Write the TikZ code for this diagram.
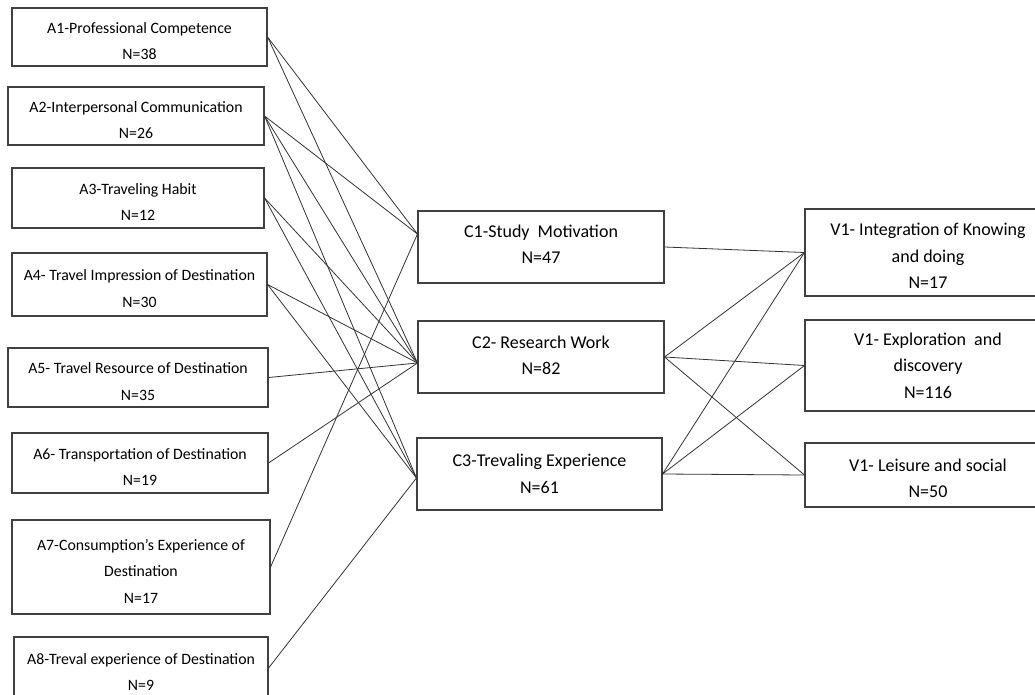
\documentclass[tikz,border=0pt]{standalone}
\usepackage{fontspec}
\setmainfont{Carlito}
\begin{document}
\begin{tikzpicture}[x=1pt,y=-1pt,
  box/.style={draw=black!75, line width=1.1pt, fill=white, inner sep=0pt, align=center},
  small/.style={box, font=\fontsize{15.8}{26.5}\selectfont},
  big/.style={box, font=\fontsize{18}{26.5}\selectfont},
  link/.style={black!80, line width=0.8pt}]
\useasboundingbox (0,0) rectangle (1035,695);
% antecedents
\foreach \n/\x/\y/\w/\h/\t in {
  A1/139.5/37/255/58/{A1-Professional Competence\\N=38},
  A2/136/116/256/58/{A2-Interpersonal Communication\\N=26},
  A3/138/198/252/60/{A3-Traveling Habit\\N=12},
  A4/139.5/284.5/255/63/{A4- Travel Impression of Destination\\N=30},
  A5/138/377.5/260/59/{A5- Travel Resource of Destination\\N=35},
  A6/140/463/256/60/{A6- Transportation of Destination\\N=19},
  A7/141/567/258/94/{A7-Consumption’s Experience of\\Destination\\N=17},
  A8/141/668/254/62/{A8-Treval experience of Destination\\N=9}}
{
\node[small, minimum width=\w, minimum height=\h] (\n) at (\x,\y) {\rule{0pt}{19pt}\t};
}
% consequences (\d lifts the text)
\foreach \n/\x/\y/\w/\d/\t in {
  C1/541/247/246/6/{C1-Study~~Motivation\\N=47},
  C2/541/357/246/4/{C2- Research Work\\N=82},
  C3/539.5/474/245/0/{C3-Trevaling Experience\\N=61}}
{
\node[big, minimum width=\w, minimum height=72] (\n) at (\x,\y) {\t\rule[-\d pt]{0pt}{0pt}};
}
% values, the boxes run past the right edge (\s drops the text)
\foreach \n/\y/\h/\s/\t in {
  V1/252.5/87/19.5/{V1- Integration of Knowing\\and doing\\N=17},
  V2/365.5/91/0/{V1- Exploration~~and\\discovery\\N=116},
  V3/475/64/19.5/{V1- Leisure and social\\N=50}}
{
\node[big, minimum width=246, minimum height=\h] (\n) at (928,\y) {\rule{0pt}{\s pt}\t};
}
\coordinate (C1-in) at ([yshift=13pt]C1.west);
\coordinate (C2-in) at ([yshift=-6pt]C2.west);
\coordinate (C3-in) at ([yshift=-4pt]C3.west);
\foreach \a/\c in {A1/C1,A1/C2,A2/C1,A2/C2,A2/C3,A3/C2,A3/C3,A4/C2,A4/C3,A5/C2,A6/C2,A7/C1,A8/C3}
{
\draw[link] (\a.east) -- (\c-in);
}
\foreach \c/\v in {C1/V1,C2/V1,C2/V2,C2/V3,C3/V1,C3/V2,C3/V3}
{
\draw[link] (\c.east) -- (\v.west);
}
\end{tikzpicture}
\end{document}
